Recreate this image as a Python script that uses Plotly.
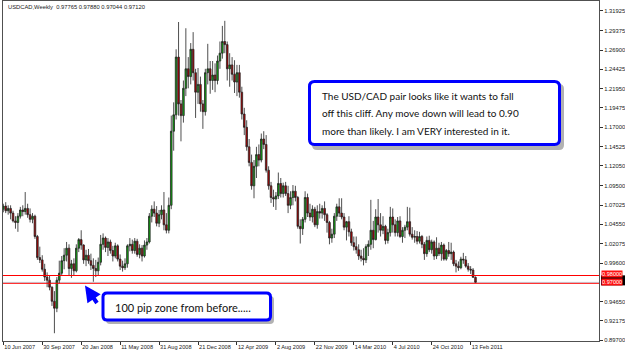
import plotly.graph_objects as go
import pandas as pd

# ---------------- data (weekly USD/CAD candles) ----------------
start_date = "2007-06-10"
n_bars = 195
dates = pd.date_range(start_date, periods=n_bars, freq="7D")

opens = [
1.0650,1.0690,1.0630,1.0660,1.0600,1.0500,1.0480,1.0560,1.0640,1.0620,
1.0660,1.0580,1.0520,1.0560,1.0300,1.0030,1.0000,0.9880,0.9780,0.9740,
0.9650,0.9470,0.9380,0.9740,0.9830,0.9990,1.0060,1.0150,0.9890,0.9950,
0.9860,1.0150,1.0260,1.0190,1.0000,1.0060,0.9990,0.9930,0.9890,0.9860,
0.9970,1.0200,1.0280,1.0160,1.0230,1.0120,1.0050,1.0180,1.0010,0.9920,
0.9900,0.9950,1.0180,1.0200,1.0120,1.0240,1.0070,1.0150,1.0050,1.0190,
1.0230,1.0560,1.0650,1.0600,1.0470,1.0580,1.0640,1.0450,1.0380,1.0700,
1.1650,1.1860,1.2600,1.2000,1.1850,1.2200,1.2450,1.2350,1.2700,1.2400,
1.2150,1.2250,1.2000,1.1900,1.2400,1.2450,1.2300,1.2370,1.2300,1.2550,
1.2650,1.2800,1.2760,1.2450,1.2500,1.2380,1.2280,1.2400,1.2150,1.1870,
1.1700,1.1450,1.1250,1.0950,1.1200,1.1350,1.1280,1.1550,1.1480,1.1150,
1.0950,1.0800,1.0780,1.0820,1.0980,1.0850,1.0950,1.0850,1.0700,1.0800,
1.0880,1.0800,1.0430,1.0400,1.0520,1.0800,1.0600,1.0550,1.0650,1.0450,
1.0620,1.0600,1.0660,1.0580,1.0480,1.0280,1.0330,1.0560,1.0680,1.0600,
1.0550,1.0420,1.0490,1.0360,1.0220,1.0170,1.0130,1.0050,1.0020,1.0000,
1.0170,1.0200,1.0380,1.0260,1.0550,1.0450,1.0380,1.0430,1.0250,1.0350,
1.0550,1.0450,1.0350,1.0500,1.0300,1.0380,1.0420,1.0490,1.0330,1.0290,
1.0300,1.0240,1.0300,1.0200,1.0080,1.0250,1.0130,1.0230,1.0050,1.0150,
1.0080,1.0190,1.0010,1.0120,1.0080,1.0100,0.9950,0.9920,0.9900,1.0010,
1.0000,0.9920,0.9880,0.9870,0.97765]

highs = [
1.0720,1.0740,1.0700,1.0700,1.0630,1.0560,1.0600,1.0680,1.0700,1.0870,
1.0720,1.0660,1.0600,1.0580,1.0320,1.0170,1.0060,0.9950,0.9840,0.9800,
0.9660,0.9600,0.9780,0.9990,1.0050,1.0150,1.0230,1.0200,1.0000,1.0020,
1.0200,1.0280,1.0380,1.0200,1.0130,1.0140,1.0080,1.0020,1.0000,1.0030,
1.0320,1.0340,1.0300,1.0280,1.0260,1.0180,1.0220,1.0200,1.0070,0.9990,
1.0020,1.0200,1.0280,1.0260,1.0280,1.0270,1.0200,1.0190,1.0250,1.0280,
1.0600,1.0700,1.0750,1.0690,1.0640,1.0700,1.0870,1.0600,1.0800,1.1850,
1.2020,1.2700,1.3050,1.2050,1.2300,1.2970,1.2600,1.2780,1.2920,1.2450,
1.2460,1.2350,1.2050,1.2450,1.2770,1.2550,1.2550,1.2520,1.2620,1.2800,
1.3000,1.3065,1.2800,1.2650,1.2600,1.2560,1.2500,1.2500,1.2220,1.1950,
1.1790,1.1550,1.1350,1.1280,1.1450,1.1480,1.1620,1.1650,1.1600,1.1200,
1.1000,1.0900,1.0870,1.1120,1.1050,1.0990,1.1000,1.0950,1.0880,1.0960,
1.0950,1.0820,1.0520,1.0550,1.0880,1.0850,1.0720,1.0700,1.0680,1.0700,
1.0720,1.0700,1.0750,1.0600,1.0500,1.0400,1.0600,1.0720,1.0790,1.0790,
1.0600,1.0500,1.0560,1.0400,1.0300,1.0300,1.0200,1.0130,1.0150,1.0200,
1.0250,1.0770,1.0500,1.0650,1.0780,1.0600,1.0560,1.0450,1.0400,1.0680,
1.0660,1.0520,1.0550,1.0560,1.0420,1.0450,1.0680,1.0670,1.0420,1.0380,
1.0370,1.0360,1.0320,1.0230,1.0300,1.0310,1.0260,1.0250,1.0290,1.0220,
1.0230,1.0210,1.0140,1.0230,1.0220,1.0120,1.0000,0.9980,1.0040,1.0090,
1.0050,0.9960,0.9920,0.9895,0.97880]

lows = [
1.0610,1.0600,1.0580,1.0520,1.0480,1.0400,1.0360,1.0530,1.0560,1.0580,
1.0540,1.0480,1.0470,1.0270,1.0000,0.9960,0.9850,0.9730,0.9650,0.9610,
0.9410,0.9060,0.9330,0.9700,0.9800,0.9880,0.9980,0.9800,0.9770,0.9800,
0.9840,1.0100,1.0130,0.9950,0.9920,0.9950,0.9870,0.9720,0.9780,0.9800,
0.9930,1.0130,1.0100,1.0050,1.0080,0.9980,1.0020,0.9980,0.9870,0.9850,
0.9870,0.9900,1.0110,1.0080,1.0080,1.0040,1.0020,0.9980,1.0030,1.0130,
1.0210,1.0480,1.0550,1.0430,1.0420,1.0520,1.0380,1.0340,1.0340,1.0650,
1.1400,1.1800,1.1850,1.1520,1.1760,1.2100,1.2200,1.2250,1.2300,1.1820,
1.2000,1.1900,1.1680,1.1850,1.2250,1.2130,1.2180,1.2150,1.2250,1.2450,
1.2580,1.2650,1.2300,1.2220,1.2300,1.2140,1.2100,1.2080,1.1800,1.1600,
1.1400,1.1200,1.0900,1.0790,1.1050,1.1200,1.1250,1.1420,1.1120,1.0900,
1.0730,1.0680,1.0640,1.0780,1.0800,1.0800,1.0820,1.0600,1.0650,1.0700,
1.0750,1.0400,1.0210,1.0320,1.0480,1.0550,1.0500,1.0480,1.0420,1.0400,
1.0530,1.0530,1.0500,1.0350,1.0200,1.0220,1.0280,1.0500,1.0550,1.0520,
1.0380,1.0250,1.0300,1.0180,1.0120,1.0080,1.0000,0.9980,0.9930,0.9960,
1.0050,1.0130,1.0150,1.0250,1.0350,1.0300,1.0330,1.0200,1.0210,1.0300,
1.0350,1.0300,1.0300,1.0280,1.0220,1.0280,1.0380,1.0300,1.0260,1.0220,
1.0200,1.0210,1.0150,1.0000,1.0040,1.0100,1.0080,1.0000,1.0010,1.0050,
0.9990,0.9990,0.9990,1.0040,1.0000,0.9920,0.9840,0.9860,0.9880,0.9950,
0.9900,0.9850,0.9820,0.9770,0.97044]

closes = [
1.0690,1.0630,1.0660,1.0600,1.0500,1.0480,1.0560,1.0640,1.0620,1.0660,
1.0580,1.0520,1.0560,1.0300,1.0030,1.0000,0.9880,0.9780,0.9740,0.9650,
0.9470,0.9380,0.9740,0.9830,0.9990,1.0060,1.0150,0.9890,0.9950,0.9860,
1.0150,1.0260,1.0190,1.0000,1.0060,0.9990,0.9930,0.9890,0.9860,0.9970,
1.0200,1.0280,1.0160,1.0230,1.0120,1.0050,1.0180,1.0010,0.9920,0.9900,
0.9950,1.0180,1.0200,1.0120,1.0240,1.0070,1.0150,1.0050,1.0190,1.0230,
1.0560,1.0650,1.0600,1.0470,1.0580,1.0640,1.0450,1.0380,1.0700,1.1650,
1.1860,1.2600,1.2000,1.1850,1.2200,1.2450,1.2350,1.2700,1.2400,1.2150,
1.2250,1.2000,1.1900,1.2400,1.2450,1.2300,1.2370,1.2300,1.2550,1.2650,
1.2800,1.2760,1.2450,1.2500,1.2380,1.2280,1.2400,1.2150,1.1870,1.1700,
1.1450,1.1250,1.0950,1.1200,1.1350,1.1280,1.1550,1.1480,1.1150,1.0950,
1.0800,1.0780,1.0820,1.0980,1.0850,1.0950,1.0850,1.0700,1.0800,1.0880,
1.0800,1.0430,1.0400,1.0520,1.0800,1.0600,1.0550,1.0650,1.0450,1.0620,
1.0600,1.0660,1.0580,1.0480,1.0280,1.0330,1.0560,1.0680,1.0600,1.0550,
1.0420,1.0490,1.0360,1.0220,1.0170,1.0130,1.0050,1.0020,1.0000,1.0170,
1.0200,1.0380,1.0260,1.0550,1.0450,1.0380,1.0430,1.0250,1.0350,1.0550,
1.0450,1.0350,1.0500,1.0300,1.0380,1.0420,1.0490,1.0330,1.0290,1.0300,
1.0240,1.0300,1.0200,1.0080,1.0250,1.0130,1.0230,1.0050,1.0150,1.0080,
1.0190,1.0010,1.0120,1.0080,1.0100,0.9950,0.9920,0.9900,1.0010,1.0000,
0.9920,0.9880,0.9870,0.9777,0.97120]

y_tick_values = [1.31925, 1.29375, 1.26900, 1.24425, 1.21950, 1.19475, 1.17000,
                 1.14525, 1.12050, 1.09500, 1.07025, 1.04550, 1.02075, 0.99600,
                 0.94650, 0.92175, 0.89700]
x_tick_dates = ["2007-06-10", "2007-09-30", "2008-01-20", "2008-05-11", "2008-08-31",
                "2008-12-21", "2009-04-12", "2009-08-02", "2009-11-22", "2010-03-14",
                "2010-07-04", "2010-10-24", "2011-02-13"]
x_tick_labels = ["10 Jun 2007", "30 Sep 2007", "20 Jan 2008", "11 May 2008", "31 Aug 2008",
                 "21 Dec 2008", "12 Apr 2009", "2 Aug 2009", "22 Nov 2009", "14 Mar 2010",
                 "4 Jul 2010", "24 Oct 2010", "13 Feb 2011"]

level_lines = [0.98, 0.97]
bid_price = 0.97120
header_text = "USDCAD,Weekly\u00a0\u00a00.97765 0.97880 0.97044 0.97120"
note_lines = ["The USD/CAD pair looks like it wants to fall",
              "off this cliff. Any move down will lead to 0.90",
              "more than likely. I am VERY interested in it."]
zone_text = "100 pip zone from before....."

# ---------------- layout geometry ----------------
W, H = 625, 354
ML, MR, MT, MB = 3, 26, 1, 13
PX0, PX1, PY0, PY1 = ML, W - MR, MT, H - MB   # plot area in pixels
PW, PH = PX1 - PX0, PY1 - PY0


def pxx(px):
    return (px - PX0) / PW


def pxy(py):
    return (PY1 - py) / PH


def rounded(x0, y0, x1, y1, r):
    rx, ry = r / PW, r / PH
    a, b, c, d = pxx(x0), pxx(x1), pxy(y1), pxy(y0)  # left, right, bottom, top (paper)
    return (f"M {a+rx},{d} L {b-rx},{d} Q {b},{d} {b},{d-ry} L {b},{c+ry} "
            f"Q {b},{c} {b-rx},{c} L {a+rx},{c} Q {a},{c} {a},{c+ry} "
            f"L {a},{d-ry} Q {a},{d} {a+rx},{d} Z")


px_per_day = 2.434 / 7.0
x_start = pd.Timestamp(start_date) - pd.Timedelta(days=0.3 / px_per_day)
x_end = x_start + pd.Timedelta(days=PW / px_per_day)
y_bottom = 0.98 - (PY1 - 275.5) / 780.0
y_top = 0.98 + (275.5 - PY0) / 780.0

fig = go.Figure()
fig.add_trace(go.Candlestick(
    x=dates, open=opens, high=highs, low=lows, close=closes,
    increasing=dict(line=dict(color="#222222", width=0.8), fillcolor="#10a810"),
    decreasing=dict(line=dict(color="#222222", width=0.8), fillcolor="#b00000"),
    whiskerwidth=0, showlegend=False, hoverinfo="skip",
))

shapes = []
# bid line and level lines
shapes.append(dict(type="line", xref="paper", x0=0, x1=1, yref="y", y0=bid_price, y1=bid_price,
                   line=dict(color="#bfe3ee", width=1), layer="below"))
for lv in level_lines:
    shapes.append(dict(type="line", xref="paper", x0=0, x1=1, yref="y", y0=lv, y1=lv,
                       line=dict(color="#ff0000", width=1), layer="above"))
# bid price marker on the price scale (mostly hidden behind the level labels)
shapes.append(dict(type="rect", xref="paper", x0=pxx(601), x1=pxx(625), yref="y",
                   ysizemode="pixel", yanchor=bid_price, y0=-3, y1=7,
                   fillcolor="#000000", line=dict(width=0)))
# note box (shadow + box)
shapes.append(dict(type="path", xref="paper", yref="paper", path=rounded(312, 84, 564, 150, 5),
                   fillcolor="rgba(0,0,0,0.30)", line=dict(width=0)))
shapes.append(dict(type="path", xref="paper", yref="paper", path=rounded(309.5, 81.5, 559.5, 144.5, 5),
                   fillcolor="white", line=dict(color="#0000ff", width=3)))
# zone box
shapes.append(dict(type="path", xref="paper", yref="paper", path=rounded(106, 296, 274, 324, 4),
                   fillcolor="rgba(0,0,0,0.30)", line=dict(width=0)))
shapes.append(dict(type="path", xref="paper", yref="paper", path=rounded(103, 293, 270.5, 320, 4),
                   fillcolor="white", line=dict(color="#0000ff", width=3)))

annotations = []
annotations.append(dict(xref="paper", yref="paper", x=pxx(6), y=pxy(7), xanchor="left", yanchor="middle",
                        text=header_text, showarrow=False,
                        font=dict(family="Liberation Sans", size=5.8, color="#202020")))
for i, line in enumerate(note_lines):
    annotations.append(dict(xref="paper", yref="paper", x=pxx(320), y=pxy(95.7 + 17.7 * i),
                            xanchor="left", yanchor="middle", text=line, showarrow=False,
                            font=dict(family="Lato", size=10, color="#111111")))
annotations.append(dict(xref="paper", yref="paper", x=pxx(113), y=pxy(307.5), xanchor="left",
                        yanchor="middle", text=zone_text, showarrow=False,
                        font=dict(family="Lato", size=11, color="#111111")))
# arrow
annotations.append(dict(xref="paper", yref="paper", x=pxx(85), y=pxy(285.5), ax=13, ay=19,
                        text="", showarrow=True, arrowhead=2, arrowsize=0.8, arrowwidth=4,
                        arrowcolor="#0000ff"))
# price labels on the right axis
for lv in level_lines:
    annotations.append(dict(xref="paper", yref="y", x=pxx(601), y=lv, yshift=1.5, xanchor="left",
                            yanchor="middle", text=f"{lv:.5f}", showarrow=False, bgcolor="#ff1010",
                            borderpad=0, font=dict(family="Liberation Sans", size=5.6, color="white")))

fig.update_layout(
    width=W, height=H, margin=dict(l=ML, r=MR, t=MT, b=MB, pad=0, autoexpand=False),
    paper_bgcolor="white", plot_bgcolor="white",
    shapes=shapes, annotations=annotations, boxgap=0.05,
    showlegend=False,
    xaxis=dict(type="date", range=[x_start, x_end], rangeslider=dict(visible=False),
               showgrid=False, zeroline=False, showline=True, mirror=True,
               linecolor="#505050", linewidth=1, automargin=False, tickangle=0,
               tickvals=pd.to_datetime(x_tick_dates), ticktext=x_tick_labels,
               ticks="outside", ticklen=3, tickcolor="#303030",
               ticklabelposition="outside right",
               tickfont=dict(family="Liberation Sans", size=5.6, color="#202020")),
    yaxis=dict(side="right", range=[y_bottom, y_top], showgrid=False, zeroline=False,
               showline=True, mirror=True, linecolor="#505050", linewidth=1, automargin=False,
               tickvals=y_tick_values, ticktext=[f"{v:.5f}" for v in y_tick_values],
               ticks="outside", ticklen=3, tickcolor="#303030",
               tickfont=dict(family="Liberation Sans", size=5.8, color="#202020")),
)

fig.write_html("out.html")
